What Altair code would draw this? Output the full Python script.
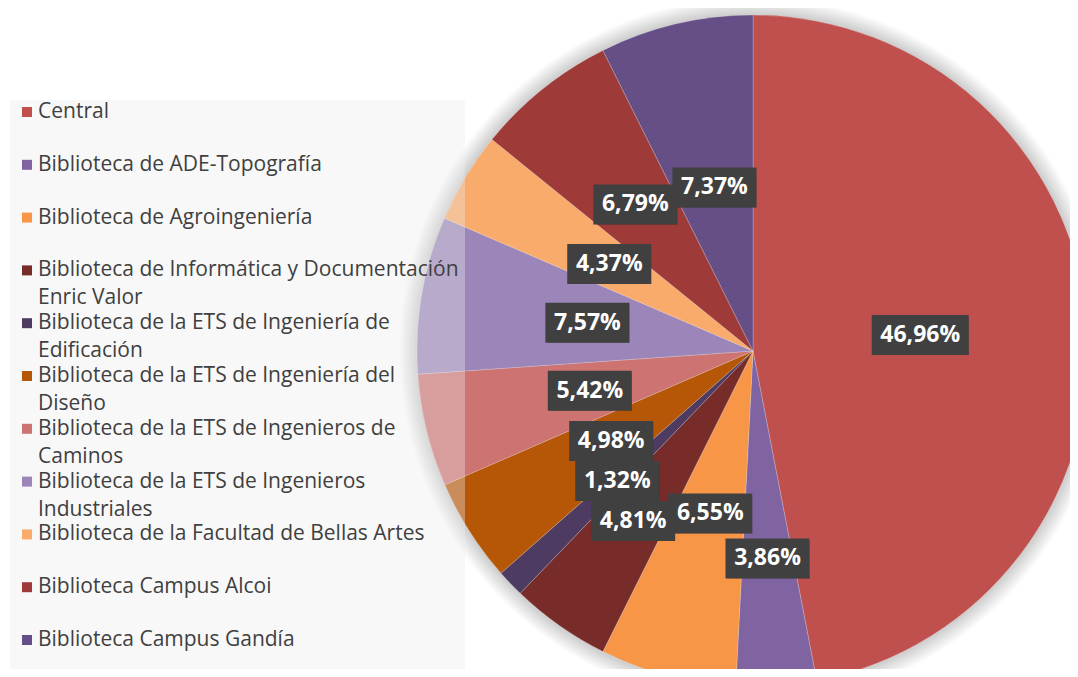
import math
import altair as alt
import pandas as pd

# ---- data ----
names = [
    "Central",
    "Biblioteca de ADE-Topografía",
    "Biblioteca de Agroingeniería",
    "Biblioteca de Informática y Documentación Enric Valor",
    "Biblioteca de la ETS de Ingeniería de Edificación",
    "Biblioteca de la ETS de Ingeniería del Diseño",
    "Biblioteca de la ETS de Ingenieros de Caminos",
    "Biblioteca de la ETS de Ingenieros Industriales",
    "Biblioteca de la Facultad de Bellas Artes",
    "Biblioteca Campus Alcoi",
    "Biblioteca Campus Gandía",
]
values = [46.96, 3.86, 6.55, 4.81, 1.32, 4.98, 5.42, 7.57, 4.37, 6.79, 7.37]
colors = ["#C0504D", "#8064A2", "#F79646", "#772C2A", "#4D3B62", "#B65708",
          "#CD7371", "#9C85B8", "#F9AB6B", "#9E3A38", "#664F86"]

# ---- layout constants ----
CX, CY, R = 745, 343, 336
LABEL_R = 168
BOX_H = 40

# greedy label placement: push a label outward while it collides with placed ones
n = len(values)
total = sum(values)
mids, cum = [], 0.0
for v in values:
    mids.append((cum + v / 2) / total * 2 * math.pi)
    cum += v
txt = [f"{v:.2f}".replace(".", ",") + "%" for v in values]
widths = [13 * len(t) + 19 for t in txt]
lab_r = [LABEL_R] * n
placed = []
for i in reversed(range(n)):
    r = LABEL_R
    while True:
        x, y = r * math.sin(mids[i]), -r * math.cos(mids[i])
        ok = all(abs(x - px) >= (widths[i] + pw) / 2 - 8 or abs(y - py) >= BOX_H - 5
                 for px, py, pw in placed)
        if ok or r >= R - 60:
            break
        r += 20
    lab_r[i] = r
    placed.append((x, y, widths[i]))

df = pd.DataFrame({"idx": list(range(n)), "name": names, "value": values, "lab_r": lab_r})

color_scale = alt.Scale(domain=names, range=colors)

base = alt.Chart(df).transform_joinaggregate(
    total="sum(value)"
).transform_window(
    cum="sum(value)", sort=[alt.SortField("idx")], frame=[None, 0]
).transform_calculate(
    a0="(datum.cum - datum.value) / datum.total * 2 * PI"
).transform_calculate(
    a1="datum.cum / datum.total * 2 * PI"
).transform_calculate(
    mid="(datum.cum - datum.value / 2) / datum.total * 2 * PI"
).transform_calculate(
    lx=f"{CX} + datum.lab_r * sin(datum.mid)"
).transform_calculate(
    ly=f"{CY} - datum.lab_r * cos(datum.mid)"
).transform_calculate(
    label="replace(format(datum.value, '.2f'), '.', ',') + '%'"
).transform_calculate(
    bw="13 * length(datum.label) + 19"
).transform_calculate(
    bx0="datum.lx - datum.bw / 2"
).transform_calculate(
    bx1="datum.lx + datum.bw / 2"
).transform_calculate(
    by0=f"datum.ly - {BOX_H / 2}"
).transform_calculate(
    by1=f"datum.ly + {BOX_H / 2}"
)

glow = alt.Chart(alt.Data(values=[{}])).mark_arc(
    outerRadius=R + 18, theta=0, theta2=2 * math.pi,
    fill={"gradient": "radial",
          "stops": [{"offset": 0, "color": "rgba(0,0,0,0.2)"},
                    {"offset": R / (R + 18), "color": "rgba(0,0,0,0.2)"},
                    {"offset": 1, "color": "rgba(0,0,0,0)"}]},
).encode(x=alt.value(CX), y=alt.value(CY))

pie = base.mark_arc(outerRadius=R, stroke="white", strokeWidth=0.6, strokeOpacity=0.35).encode(
    theta=alt.Theta("a0:Q", scale=None),
    theta2="a1:Q",
    color=alt.Color("name:N", scale=color_scale, legend=None),
    x=alt.value(CX),
    y=alt.value(CY),
)

shadow = base.mark_rect(color="black", opacity=0.3, xOffset=3, yOffset=3).encode(
    x=alt.X("bx0:Q", scale=None, axis=None), x2="bx1:Q",
    y=alt.Y("by0:Q", scale=None, axis=None), y2="by1:Q",
)
box = base.mark_rect(color="#404040").encode(
    x=alt.X("bx0:Q", scale=None, axis=None), x2="bx1:Q",
    y=alt.Y("by0:Q", scale=None, axis=None), y2="by1:Q",
)
text = base.mark_text(font="Open Sans", fontSize=23, fontWeight="bold", color="white",
                      align="center", baseline="middle").encode(
    x=alt.X("lx:Q", scale=None, axis=None),
    y=alt.Y("ly:Q", scale=None, axis=None),
    text="label:N",
)

# ---- legend (translucent panel over the pie, as in the reference) ----
wrap = ("length(datum.name) > 42 ? "
        "substring(datum.name, 0, lastindexof(substring(datum.name, 0, 42), ' ')) + '\\n' + "
        "substring(datum.name, lastindexof(substring(datum.name, 0, 42), ' ') + 1) "
        ": datum.name")
leg_base = alt.Chart(df).transform_calculate(leg=wrap)
leg_y = alt.Y("name:N", axis=None,
              scale=alt.Scale(type="point", domain=names, range=[104, 632], padding=0))

leg_bg = alt.Chart(alt.Data(values=[{}])).mark_rect(fill="#EBEBEB", opacity=0.36).encode(
    x=alt.value(2), x2=alt.value(457), y=alt.value(92), y2=alt.value(668)
)
leg_sym = leg_base.mark_square(size=100, opacity=1, strokeWidth=0).encode(
    x=alt.value(19), y=leg_y,
    color=alt.Color("name:N", scale=color_scale, legend=None),
)
leg_txt = leg_base.mark_text(align="left", baseline="top", dy=-11, font="Open Sans",
                             fontSize=21, color="#404040", lineBreak="\n",
                             lineHeight=28).encode(
    x=alt.value(30), y=leg_y, text="leg:N",
)

chart = alt.layer(glow, pie, shadow, box, text, leg_bg, leg_sym, leg_txt).resolve_scale(
    y="independent", x="independent"
).properties(
    width=1062, height=661, padding=0,
    autosize=alt.AutoSizeParams(type="none"),
    background="white",
).configure_view(stroke=None)

chart.save("out.html", embed_options={"renderer": "svg", "actions": False})
